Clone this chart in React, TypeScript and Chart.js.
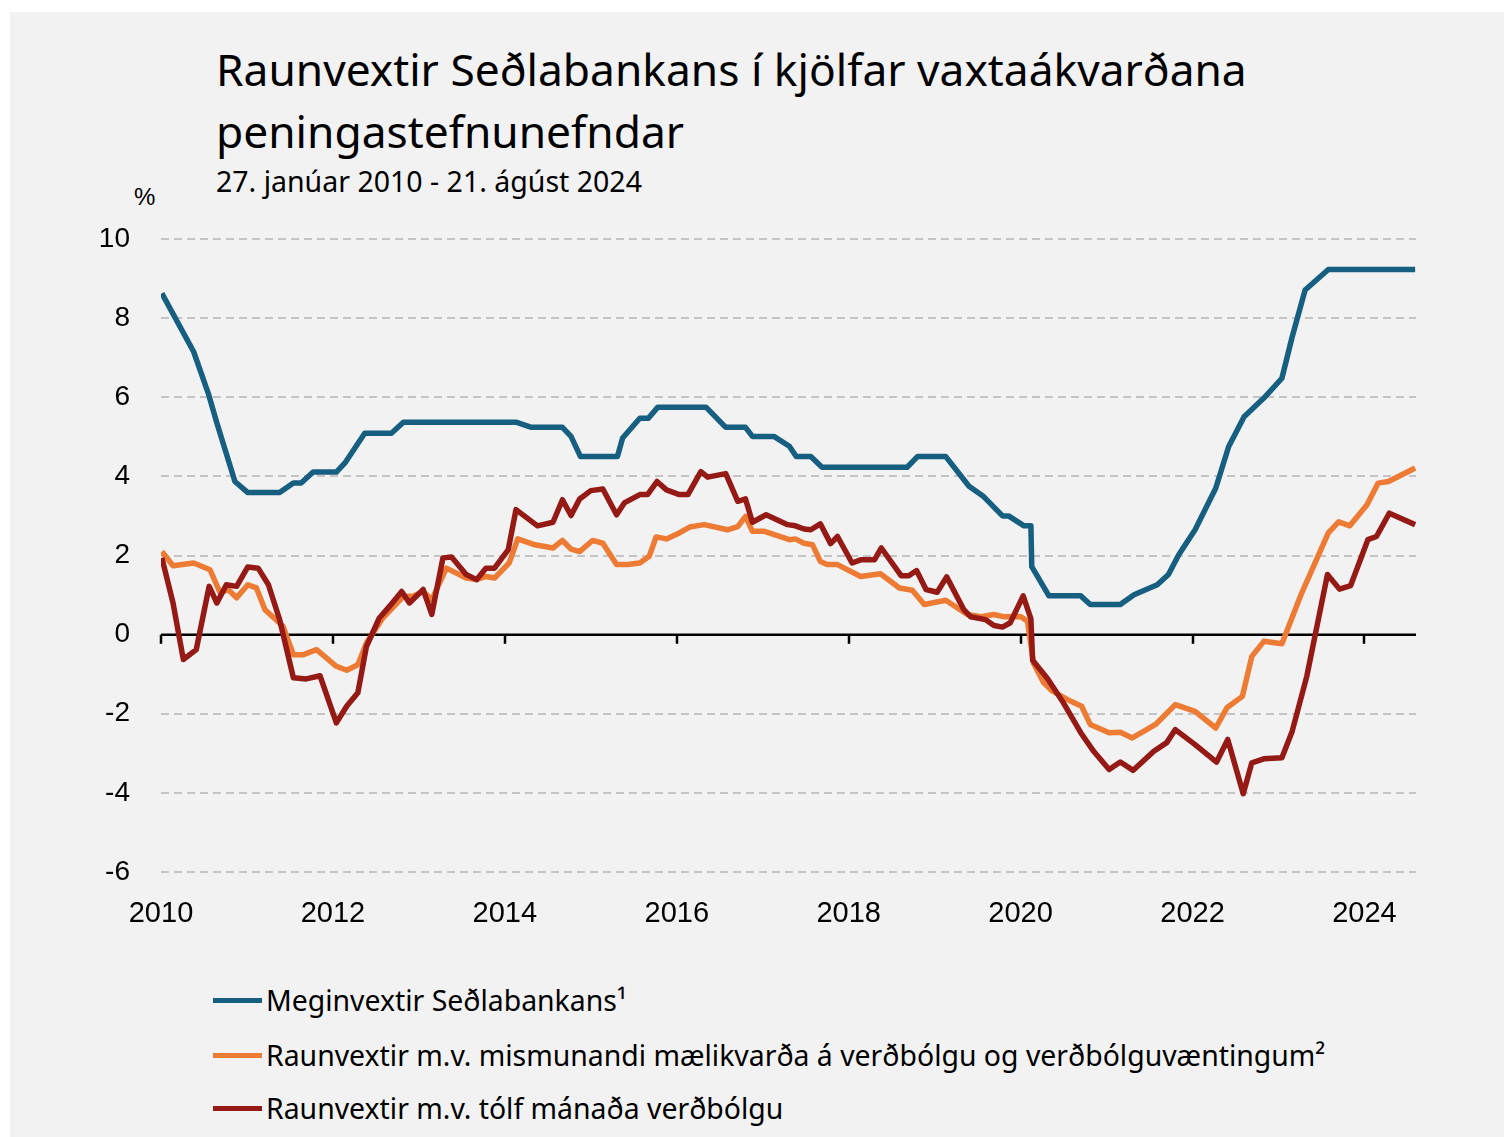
import React, { useEffect, useRef } from "react";
import { Chart, registerables } from "chart.js";

Chart.register(...registerables);

// ---------- Text ----------
const TITLE_LINES = ["Raunvextir Seðlabankans í kjölfar vaxtaákvarðana", "peningastefnunefndar"];
const SUBTITLE = "27. janúar 2010 - 21. ágúst 2024";
const Y_UNIT = "%";
const SERIES_LABELS = [
  "Meginvextir Seðlabankans¹",
  "Raunvextir m.v. mismunandi mælikvarða á verðbólgu og verðbólguvæntingum²",
  "Raunvextir m.v. tólf mánaða verðbólgu",
];
const SERIES_COLORS = ["#175f80", "#ee7b33", "#951a16"];

// ---------- Axis ----------
const X_MIN = 2010;
const X_MAX = 2024.6;
const X_STEP = 2;
const Y_MIN = -6;
const Y_MAX = 10;
const Y_STEP = 2;

// ---------- Data (decimal year, %) ----------
const policyDates = [
  2010.01, 2010.38, 2010.55, 2010.65, 2010.86, 2011.01, 2011.38, 2011.54, 2011.63, 2011.77,
  2012.04, 2012.14, 2012.37, 2012.68, 2012.82, 2014.13, 2014.31, 2014.67, 2014.77, 2014.88,
  2015.31, 2015.37, 2015.57, 2015.67, 2015.78, 2016.34, 2016.57, 2016.8, 2016.88, 2017.13,
  2017.31, 2017.39, 2017.56, 2017.69, 2018.68, 2018.8, 2019.13, 2019.4, 2019.57, 2019.79,
  2019.86, 2020.04, 2020.12, 2020.13, 2020.33, 2020.7, 2020.81, 2021.16, 2021.32, 2021.59,
  2021.72, 2021.84, 2022.03, 2022.27, 2022.42, 2022.6, 2022.83, 2023.04, 2023.16, 2023.31,
  2023.58, 2024.59,
];
const policyRate = [
  8.63, 7.15, 6.1, 5.35, 3.87, 3.59, 3.59, 3.83, 3.83, 4.11,
  4.11, 4.34, 5.09, 5.09, 5.37, 5.37, 5.24, 5.24, 5.01, 4.5,
  4.5, 4.97, 5.47, 5.47, 5.75, 5.75, 5.24, 5.24, 5.01, 5.01,
  4.76, 4.5, 4.5, 4.23, 4.23, 4.5, 4.5, 3.75, 3.49, 3.0,
  3.0, 2.75, 2.75, 1.72, 0.98, 0.98, 0.76, 0.76, 1.01, 1.26,
  1.52, 2.02, 2.65, 3.7, 4.75, 5.51, 5.98, 6.48, 7.53, 8.71,
  9.23, 9.23,
];

const altDates = [
  2010.01, 2010.14, 2010.38, 2010.57, 2010.69, 2010.78, 2010.88, 2011.01, 2011.11, 2011.21,
  2011.42, 2011.54, 2011.65, 2011.81, 2012.04, 2012.16, 2012.29, 2012.39, 2012.58, 2012.82,
  2012.93, 2013.05, 2013.15, 2013.32, 2013.55, 2013.67, 2013.78, 2013.88, 2014.05, 2014.15,
  2014.35, 2014.56, 2014.67, 2014.77, 2014.87, 2015.02, 2015.14, 2015.3, 2015.43, 2015.57,
  2015.68, 2015.76, 2015.88, 2016.03, 2016.15, 2016.32, 2016.59, 2016.71, 2016.8, 2016.88,
  2017.02, 2017.17, 2017.31, 2017.38, 2017.48, 2017.58, 2017.67, 2017.75, 2017.87, 2018.14,
  2018.37, 2018.59, 2018.74, 2018.88, 2019.13, 2019.38, 2019.54, 2019.69, 2019.81, 2020.0,
  2020.08, 2020.15, 2020.27, 2020.37, 2020.58, 2020.71, 2020.81, 2021.03, 2021.16, 2021.3,
  2021.57, 2021.8, 2022.03, 2022.27, 2022.4, 2022.58, 2022.69, 2022.83, 2023.04, 2023.27,
  2023.58, 2023.7, 2023.83, 2024.03, 2024.16, 2024.28, 2024.59,
];
const altRealRate = [
  2.1, 1.74, 1.81, 1.64, 1.05, 1.14, 0.93, 1.26, 1.18, 0.63,
  0.21, -0.51, -0.51, -0.38, -0.8, -0.9, -0.76, -0.21, 0.42, 0.97,
  0.97, 1.09, 0.88, 1.68, 1.43, 1.39, 1.47, 1.43, 1.81, 2.42,
  2.27, 2.19, 2.38, 2.16, 2.1, 2.38, 2.31, 1.77, 1.77, 1.81,
  1.98, 2.47, 2.42, 2.57, 2.72, 2.78, 2.65, 2.73, 2.99, 2.61,
  2.61, 2.5, 2.4, 2.42, 2.31, 2.27, 1.85, 1.77, 1.77, 1.47,
  1.54, 1.18, 1.12, 0.76, 0.87, 0.51, 0.45, 0.51, 0.45, 0.46,
  0.34, -0.72, -1.22, -1.43, -1.68, -1.81, -2.27, -2.48, -2.47, -2.61,
  -2.27, -1.77, -1.94, -2.36, -1.85, -1.56, -0.55, -0.17, -0.23, 1.05,
  2.57, 2.85, 2.75, 3.28, 3.83, 3.87, 4.21,
];

const cpiDates = [
  2010.01, 2010.14, 2010.26, 2010.41, 2010.56, 2010.65, 2010.76, 2010.88, 2011.01, 2011.13,
  2011.25, 2011.38, 2011.54, 2011.69, 2011.85, 2012.04, 2012.16, 2012.29, 2012.39, 2012.54,
  2012.66, 2012.8, 2012.89, 2013.05, 2013.15, 2013.28, 2013.38, 2013.55, 2013.67, 2013.78,
  2013.88, 2014.04, 2014.13, 2014.38, 2014.56, 2014.67, 2014.77, 2014.87, 2015.0, 2015.14,
  2015.3, 2015.39, 2015.57, 2015.66, 2015.77, 2015.88, 2016.03, 2016.13, 2016.28, 2016.36,
  2016.57, 2016.71, 2016.8, 2016.88, 2017.04, 2017.29, 2017.38, 2017.48, 2017.56, 2017.67,
  2017.79, 2017.87, 2018.04, 2018.14, 2018.3, 2018.38, 2018.61, 2018.7, 2018.79, 2018.9,
  2019.03, 2019.14, 2019.34, 2019.42, 2019.59, 2019.69, 2019.79, 2019.88, 2020.03, 2020.12,
  2020.14, 2020.31, 2020.5, 2020.7, 2020.85, 2021.03, 2021.16, 2021.31, 2021.55, 2021.7,
  2021.8, 2022.03, 2022.28, 2022.41, 2022.59, 2022.69, 2022.83, 2023.04, 2023.16, 2023.33,
  2023.57, 2023.71, 2023.84, 2024.04, 2024.14, 2024.29, 2024.59,
];
const cpiRealRate = [
  1.94, 0.8, -0.63, -0.38, 1.22, 0.8, 1.26, 1.22, 1.71, 1.68,
  1.26, 0.38, -1.09, -1.12, -1.04, -2.23, -1.81, -1.47, -0.3, 0.42,
  0.72, 1.09, 0.8, 1.14, 0.51, 1.94, 1.96, 1.52, 1.39, 1.68,
  1.68, 2.15, 3.16, 2.75, 2.84, 3.41, 3.01, 3.43, 3.64, 3.68,
  3.03, 3.33, 3.54, 3.54, 3.87, 3.66, 3.54, 3.54, 4.12, 3.98,
  4.07, 3.37, 3.43, 2.84, 3.03, 2.78, 2.75, 2.67, 2.65, 2.8,
  2.3, 2.48, 1.81, 1.89, 1.89, 2.19, 1.49, 1.49, 1.62, 1.14,
  1.07, 1.46, 0.63, 0.45, 0.38, 0.23, 0.19, 0.3, 0.98, 0.4,
  -0.65, -1.1, -1.73, -2.48, -2.95, -3.41, -3.22, -3.43, -2.95, -2.73,
  -2.4, -2.78, -3.22, -2.65, -4.02, -3.24, -3.14, -3.11, -2.44, -1.05,
  1.52, 1.15, 1.24, 2.4, 2.48, 3.07, 2.78,
];

const toPoints = (xs: number[], ys: number[]) => xs.map((x, i) => ({ x, y: ys[i] }));

const FONT_TEXT = '"Noto Sans", "Open Sans", sans-serif';
const FONT_AXIS = '"Liberation Sans", Arial, sans-serif';

const zeroLinePlugin = {
  id: "zeroLine",
  beforeDatasetsDraw(chart: any) {
    const { ctx, chartArea, scales } = chart;
    const x = scales.x;
    const y = scales.y;
    const y0 = y.getPixelForValue(0);
    ctx.save();
    ctx.strokeStyle = "#000";
    ctx.lineWidth = 2.5;
    ctx.beginPath();
    ctx.moveTo(chartArea.left, y0);
    ctx.lineTo(chartArea.right, y0);
    x.ticks.forEach((t: any) => {
      const px = Math.round(x.getPixelForValue(t.value));
      ctx.moveTo(px, y0);
      ctx.lineTo(px, y0 + 9);
    });
    ctx.stroke();
    ctx.restore();
  },
};

export default function App() {
  const canvasRef = useRef<HTMLCanvasElement | null>(null);

  useEffect(() => {
    if (!canvasRef.current) return;
    const datasets = [
      { label: SERIES_LABELS[0], data: toPoints(policyDates, policyRate), color: SERIES_COLORS[0], order: 2 },
      { label: SERIES_LABELS[1], data: toPoints(altDates, altRealRate), color: SERIES_COLORS[1], order: 1 },
      { label: SERIES_LABELS[2], data: toPoints(cpiDates, cpiRealRate), color: SERIES_COLORS[2], order: 0 },
    ].map((d) => ({
      label: d.label,
      data: d.data,
      order: d.order,
      borderColor: d.color,
      backgroundColor: d.color,
      borderWidth: 5.5,
      pointRadius: 0,
      tension: 0,
      borderJoinStyle: "round" as const,
      fill: false,
    }));

    const chart = new Chart(canvasRef.current, {
      type: "line",
      data: { datasets },
      plugins: [zeroLinePlugin],
      options: {
        animation: false,
        responsive: false,
        maintainAspectRatio: false,
        events: [],
        layout: { padding: { left: 0, right: 88, top: 29, bottom: 28 } },
        plugins: {
          legend: { display: false },
          title: { display: false },
          tooltip: { enabled: false },
        },
        scales: {
          x: {
            type: "linear",
            min: X_MIN,
            max: X_MAX,
            grid: { display: false, drawTicks: false },
            border: { display: false },
            afterFit: (scale: any) => {
              scale.height = 60;
            },
            ticks: {
              stepSize: X_STEP,
              includeBounds: false,
              autoSkip: false,
              maxRotation: 0,
              padding: 25,
              color: "#000",
              font: { family: FONT_AXIS, size: 29 },
              callback: (v: any) => String(v),
            },
          },
          y: {
            type: "linear",
            min: Y_MIN,
            max: Y_MAX,
            grid: {
              color: "#c4c4c4",
              lineWidth: 2,
              drawTicks: true,
              tickLength: 31,
              tickColor: "rgba(0,0,0,0)",
            },
            border: { display: false, dash: [8, 5] },
            afterFit: (scale: any) => {
              scale.width = 151;
            },
            ticks: {
              stepSize: Y_STEP,
              padding: 0,
              color: "#000",
              font: { family: FONT_AXIS, size: 28 },
              callback: (v: any) => String(v),
            },
          },
        },
      },
    });
    return () => chart.destroy();
  }, []);

  return (
    <div
      style={{
        position: "absolute",
        left: 10,
        top: 12,
        width: 1494,
        height: 1125,
        background: "#f2f2f2",
        overflow: "hidden",
        color: "#000",
      }}
    >
      <div
        style={{
          position: "absolute",
          left: 206,
          top: 26,
          fontFamily: FONT_TEXT,
          fontSize: 44.3,
          lineHeight: "62px",
          whiteSpace: "nowrap",
        }}
      >
        {TITLE_LINES.map((t) => (
          <div key={t}>{t}</div>
        ))}
      </div>
      <div
        style={{
          position: "absolute",
          left: 206,
          top: 153,
          fontFamily: FONT_TEXT,
          fontSize: 28.5,
          lineHeight: "32px",
          whiteSpace: "nowrap",
        }}
      >
        {SUBTITLE}
      </div>
      <div
        style={{
          position: "absolute",
          left: 124,
          top: 171,
          fontFamily: FONT_AXIS,
          fontSize: 24,
          lineHeight: "28px",
        }}
      >
        {Y_UNIT}
      </div>
      <canvas
        ref={canvasRef}
        width={1494}
        height={750}
        style={{ position: "absolute", left: 0, top: 198, width: 1494, height: 750 }}
      />
      {SERIES_LABELS.map((label, i) => (
        <div
          key={label}
          style={{
            position: "absolute",
            left: 203,
            top: [988, 1043, 1096][i] - 20,
            height: 40,
            display: "flex",
            alignItems: "center",
            whiteSpace: "nowrap",
          }}
        >
          <span
            style={{
              display: "inline-block",
              width: 49,
              height: 5,
              background: SERIES_COLORS[i],
              marginRight: 4,
            }}
          />
          <span style={{ fontFamily: FONT_TEXT, fontSize: 28.4, lineHeight: "40px" }}>{label}</span>
        </div>
      ))}
    </div>
  );
}
